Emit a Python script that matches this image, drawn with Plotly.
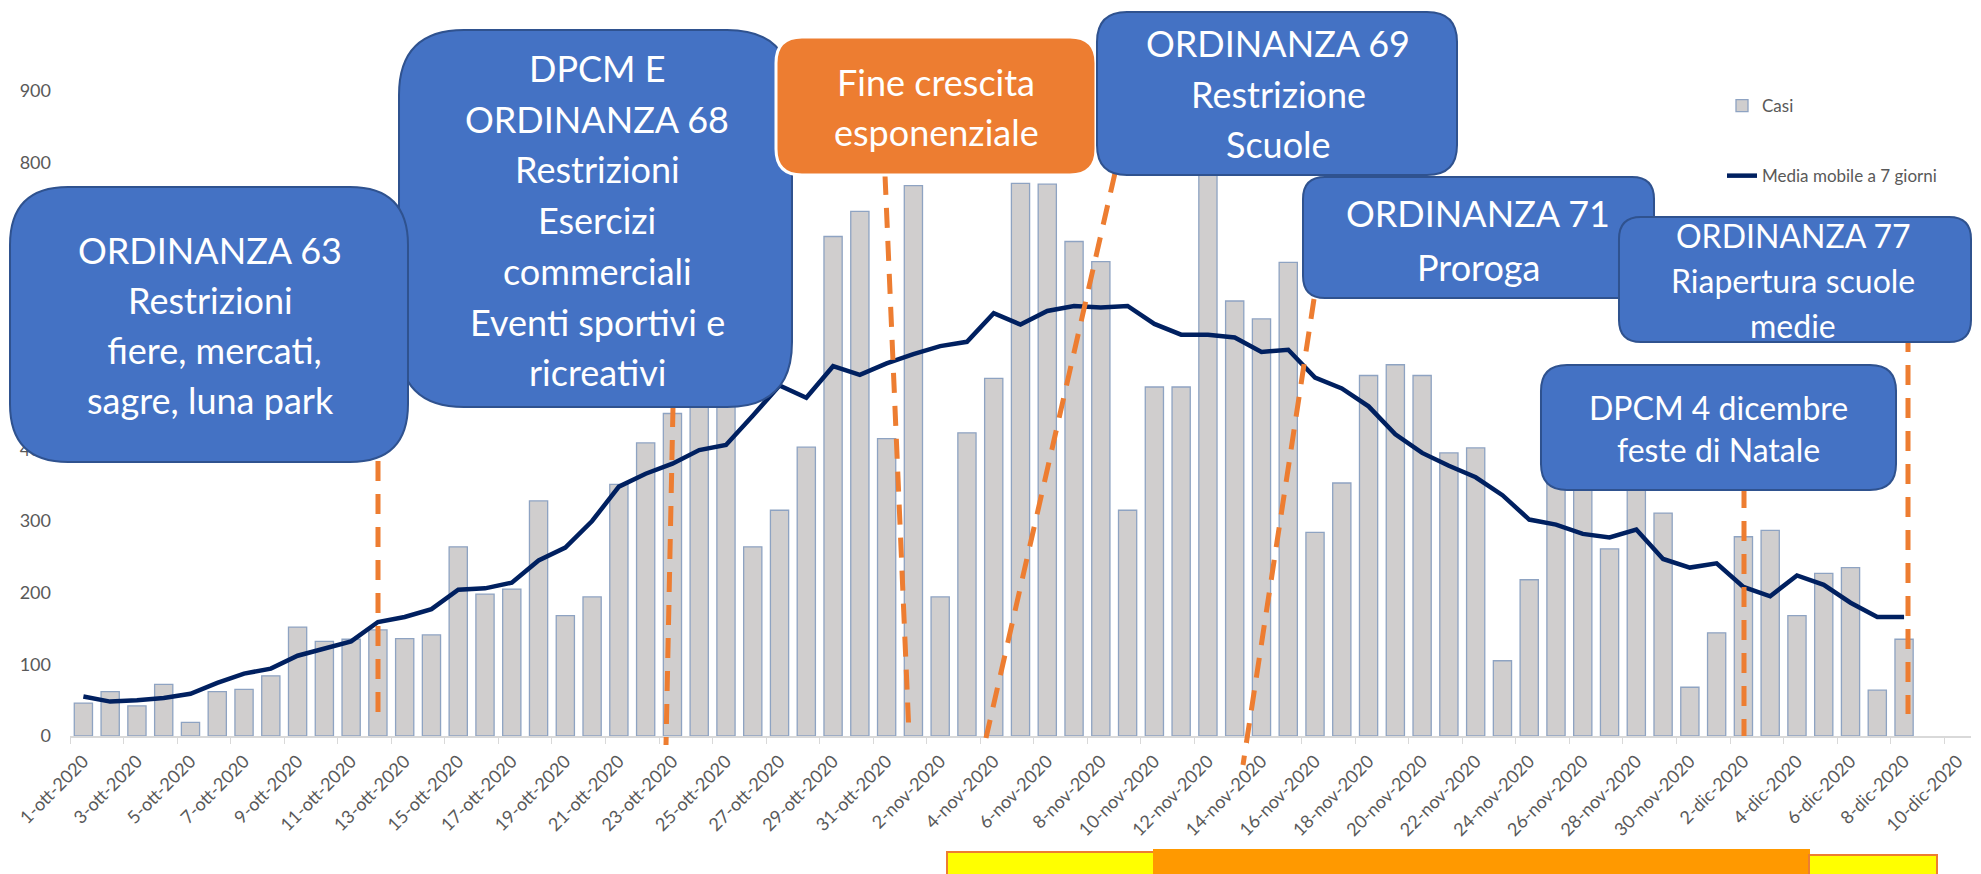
import plotly.graph_objects as go

# ---------------- data ----------------
oct_days = [f"{d}-ott-2020" for d in range(1, 32)]
nov_days = [f"{d}-nov-2020" for d in range(1, 31)]
dec_days = [f"{d}-dic-2020" for d in range(1, 11)]
categories = oct_days + nov_days + dec_days  # 1-ott .. 10-dic

casi = [46, 62, 42, 72, 19, 62, 65, 84, 152, 132,
        135, 148, 136, 141, 264, 198, 205, 328, 168, 194,
        351, 409, 450, 535, 480, 264, 315, 403, 697, 732,
        415,
        768, 194, 423, 499, 771, 770, 690, 662, 315, 487,
        487, 805, 607, 582, 661, 284, 353, 503, 518, 503,
        395, 402, 105, 218, 395, 343, 261, 365, 311, 68,
        144, 278, 287, 168, 227, 235, 64, 135]

media_mobile = [55, 48, 50, 53, 59, 74, 87, 94, 112, 122,
                132, 159, 166, 177, 204, 206, 214, 245, 263, 300,
                348, 366, 380, 399, 406, 447, 489, 472, 516, 504,
                520,
                533, 544, 550, 590, 574, 593, 600, 598, 600, 575,
                560, 560, 556, 536, 539, 500, 485, 460, 421, 395,
                377, 361, 336, 302, 295, 282, 277, 288, 247, 235,
                241, 208, 195, 224, 211, 186, 166, 166]

y_ticks = [0, 100, 200, 300, 400, 500, 600, 700, 800, 900]

# ---------------- geometry helpers (pixel -> paper) ----------------
W, H = 1981, 874
PL, PR, PT, PB = 70, 1971, 91, 736


def px(x, y):
    return ((x - PL) / (PR - PL), (PB - y) / (PB - PT))


def rounded_path(x0, y0, x1, y1, r):
    def P(x, y):
        a, b = px(x, y)
        return f"{a:.5f},{b:.5f}"
    return (f"M {P(x0 + r, y0)} L {P(x1 - r, y0)} Q {P(x1, y0)} {P(x1, y0 + r)} "
            f"L {P(x1, y1 - r)} Q {P(x1, y1)} {P(x1 - r, y1)} "
            f"L {P(x0 + r, y1)} Q {P(x0, y1)} {P(x0, y1 - r)} "
            f"L {P(x0, y0 + r)} Q {P(x0, y0)} {P(x0 + r, y0)} Z")


fig = go.Figure()

fig.add_trace(go.Bar(
    x=categories[:len(casi)], y=casi, name="Casi",
    marker=dict(color="#D0CECE", line=dict(color="#8EA3C2", width=1.3)),
    legendgroup="a",
))
fig.add_trace(go.Scatter(
    x=categories[:len(media_mobile)], y=media_mobile, mode="lines",
    name="Media mobile a 7 giorni",
    line=dict(color="#002060", width=4.5),
    legendgroup="b",
))

shapes = []
ORANGE = "#ED7D31"
BLUE = "#4472C4"
BLUE_EDGE = "#2F528F"

# dashed connector lines (pixel endpoints)
dash_lines = [
    (378, 461, 378, 725),
    (673, 407, 666, 745),
    (885, 175, 909, 734),
    (1115, 173, 986, 738),
    (1314, 299, 1243, 765),
    (1744, 488, 1744, 736),
    (1908, 332, 1908, 714),
]
for (x0, y0, x1, y1) in dash_lines:
    a0, b0 = px(x0, y0)
    a1, b1 = px(x1, y1)
    shapes.append(dict(type="line", xref="paper", yref="paper",
                       x0=a0, y0=b0, x1=a1, y1=b1,
                       line=dict(color=ORANGE, width=5, dash="20px,13px")))

# boxes: (x0, y0, x1, y1, radius, fill, edge, edgewidth)
boxes = [
    (399, 30, 792, 407, 65, BLUE, BLUE_EDGE, 2),
    (10, 187, 408, 462, 58, BLUE, BLUE_EDGE, 2),
    (776, 37, 1096, 175, 26, ORANGE, "#FFFFFF", 3),
    (1097, 12, 1457, 175, 30, BLUE, BLUE_EDGE, 2),
    (1303, 177, 1654, 298, 22, BLUE, BLUE_EDGE, 2),
    (1619, 217, 1971, 342, 22, BLUE, BLUE_EDGE, 2),
    (1541, 365, 1896, 490, 26, BLUE, BLUE_EDGE, 2),
]
for (x0, y0, x1, y1, r, fc, ec, ew) in boxes:
    shapes.append(dict(type="path", xref="paper", yref="paper",
                       path=rounded_path(x0, y0, x1, y1, r),
                       fillcolor=fc, line=dict(color=ec, width=ew)))

# bottom coloured strip
strips = [
    (947, 852, 1154, 880, "#FFFF00", ORANGE),
    (1154, 850, 1809, 880, "#FF9900", "#FF9900"),
    (1809, 855, 1937, 880, "#FFFF00", ORANGE),
]
for (x0, y0, x1, y1, fc, ec) in strips:
    a0, b0 = px(x0, y0)
    a1, b1 = px(x1, y1)
    shapes.append(dict(type="rect", xref="paper", yref="paper",
                       x0=a0, y0=b0, x1=a1, y1=b1,
                       fillcolor=fc, line=dict(color=ec, width=2)))

# box texts: (center x, first line y, spacing, size, lines)
box_texts = [
    (210, 250, 50, 36, ["ORDINANZA 63", "Restrizioni", " fiere, mercati,", "sagre, luna park"]),
    (597, 68, 50.7, 36, ["DPCM E", "ORDINANZA 68", "Restrizioni", "Esercizi",
                         "commerciali", "Eventi sportivi e", "ricreativi"]),
    (936, 82, 50, 36, ["Fine crescita", "esponenziale"]),
    (1278, 43, 50.5, 36, ["ORDINANZA 69", "Restrizione", "Scuole"]),
    (1478, 213, 54, 36, ["ORDINANZA 71", "Proroga"]),
    (1793, 235, 45, 32, ["ORDINANZA 77", "Riapertura scuole", "medie"]),
    (1718, 407, 43, 32, ["DPCM 4 dicembre", "feste di Natale"]),
]
annotations = []
for (cx, y0, sp, size, lines) in box_texts:
    for i, t in enumerate(lines):
        a, b = px(cx, y0 + i * sp)
        annotations.append(dict(x=a, y=b, xref="paper", yref="paper",
                                text=t, showarrow=False,
                                xanchor="center", yanchor="middle",
                                font=dict(family="Lato", size=size, color="#FFFFFF")))

lx, ly = px(1722, 88)

fig.update_layout(
    width=W, height=H,
    margin=dict(l=PL, r=W - PR, t=PT, b=H - PB, autoexpand=False),
    plot_bgcolor="#FFFFFF", paper_bgcolor="#FFFFFF",
    bargap=0.32,
    font=dict(family="Lato", color="#595959", size=17),
    showlegend=True,
    legend=dict(x=lx, y=ly, xanchor="left", yanchor="top",
                bgcolor="rgba(0,0,0,0)", tracegroupgap=45,
                font=dict(family="Lato", size=17, color="#595959")),
    xaxis=dict(
        type="category", categoryorder="array", categoryarray=categories,
        range=[-0.5, len(categories) - 0.5], automargin=False,
        tickmode="linear", tick0=0, dtick=2, tickson="boundaries",
        tickangle=-45, ticks="outside", ticklen=6, tickcolor="#D9D9D9",
        showline=True, linecolor="#D9D9D9", linewidth=1.5,
        showgrid=False, zeroline=False,
        tickfont=dict(family="Lato", size=18, color="#595959"),
        ticklabelstandoff=6,
    ),
    yaxis=dict(
        range=[0, 900], tickvals=y_ticks, ticktext=[str(v) for v in y_ticks],
        automargin=False,
        showgrid=False, zeroline=False, showline=False, ticks="",
        tickfont=dict(family="Lato", size=18, color="#595959"),
        ticklabelstandoff=18,
    ),
    shapes=shapes,
    annotations=annotations,
)

fig.write_html("out.html", config={"displayModeBar": False},
               post_script="document.body.style.margin='0px';")
